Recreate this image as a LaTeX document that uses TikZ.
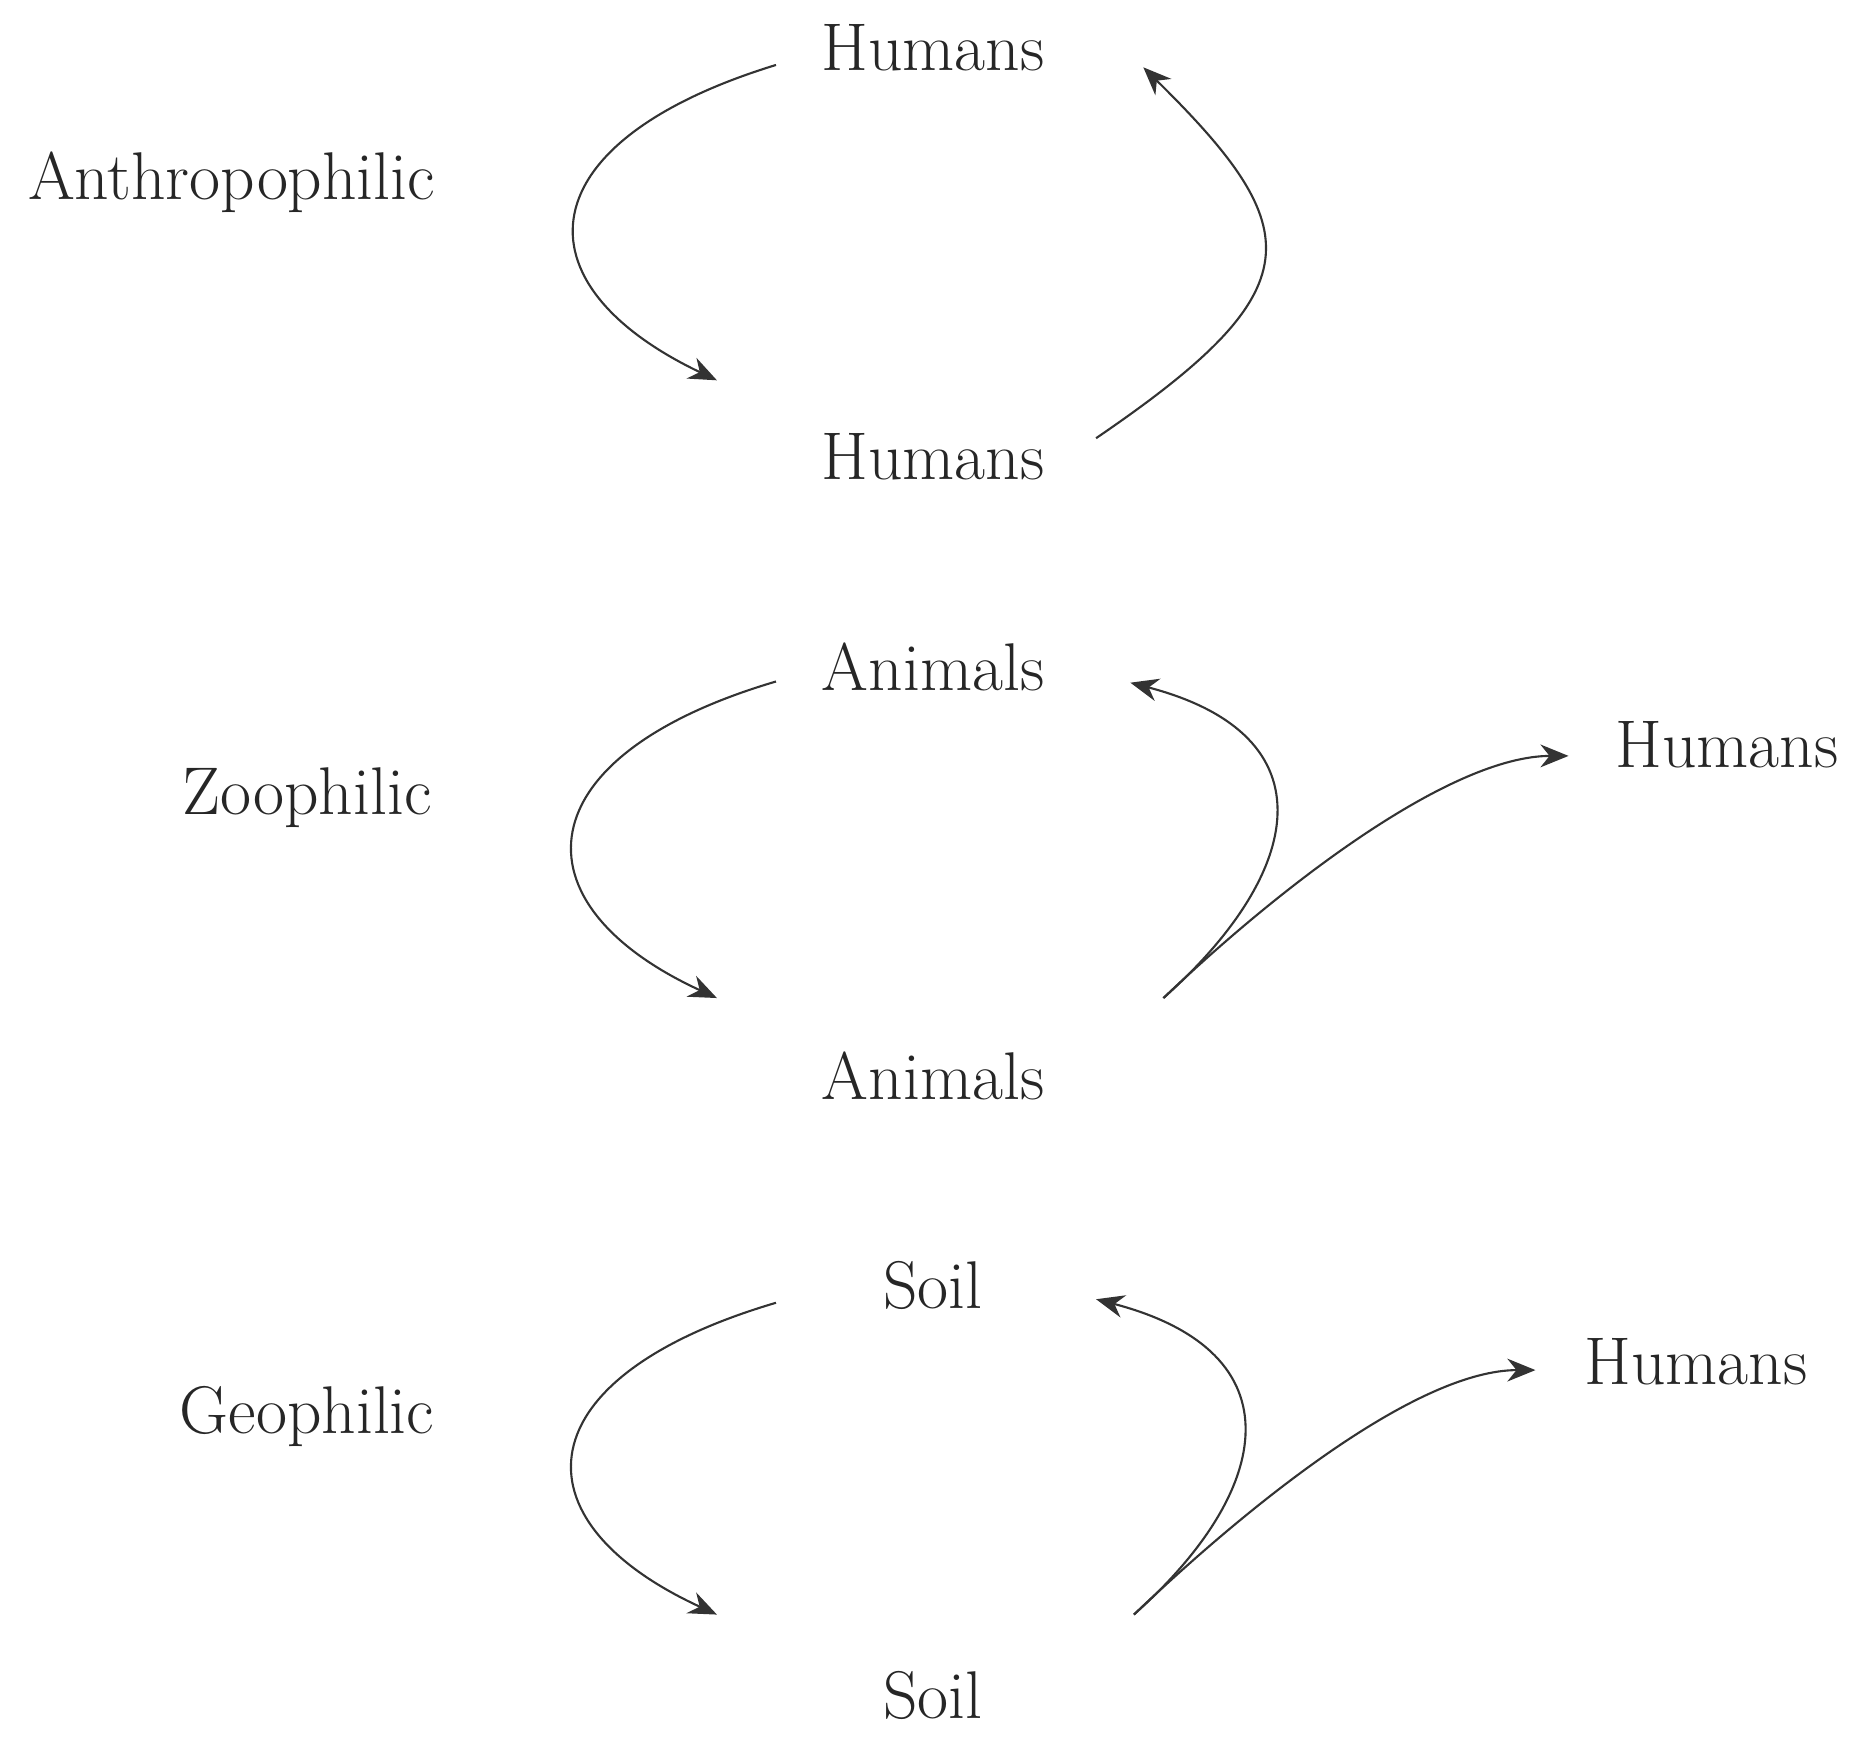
\documentclass[tikz,border=0pt]{standalone}
\usetikzlibrary{arrows.meta}
\begin{document}
\begin{tikzpicture}[x=0.01181cm,y=-0.01181cm,
  every node/.style={font=\fontsize{19.2}{23}\selectfont,text=black!85,inner sep=0pt,anchor=base},
  arr/.style={draw=black!80,line width=0.6pt,-{Stealth[length=8pt,width=6.5pt]}}]
\useasboundingbox (0,0) rectangle (1568,1471);
% anthropophilic: humans -> humans
\node (anth) at (196,169) {Anthropophilic};
\node (hum1) at (790,60) {Humans};
\node (hum2) at (790,406) {Humans};
\draw[arr] ([shift={(-133,-5)}]hum1.base) .. controls +(-212,65) and +(-172,-82) .. ([shift={(-183,-84)}]hum2.base);
\draw[arr] ([shift={(138,-35)}]hum2.base) .. controls +(185,-126) and +(140,138) .. ([shift={(178,-3)}]hum1.base);
% zoophilic: animals -> animals, animals -> humans
\node (zoo) at (260,690) {Zoophilic};
\node (ani1) at (790,585) {Animals};
\node (ani2) at (790,931) {Animals};
\node (humz) at (1462,650) {Humans};
\draw[arr] ([shift={(-133,-8)}]ani1.base) .. controls +(-214,63) and +(-174,-80) .. ([shift={(-183,-86)}]ani2.base);
\draw[arr] ([shift={(195,-86)}]ani2.base) .. controls +(118,-105) and +(172,45) .. ([shift={(167,-7)}]ani1.base);
\draw[arr] ([shift={(195,-86)}]ani2.base) .. controls +(105,-100) and +(-98,0) .. ([shift={(-134,-10)}]humz.base);
% geophilic: soil -> soil, soil -> humans
\node (geo) at (260,1214) {Geophilic};
\node (soil1) at (790,1108) {Soil};
\node (soil2) at (790,1455) {Soil};
\node (humg) at (1436,1172) {Humans};
\draw[arr] ([shift={(-133,-5)}]soil1.base) .. controls +(-214,63) and +(-174,-80) .. ([shift={(-183,-88)}]soil2.base);
\draw[arr] ([shift={(170,-88)}]soil2.base) .. controls +(118,-105) and +(172,45) .. ([shift={(138,-8)}]soil1.base);
\draw[arr] ([shift={(170,-88)}]soil2.base) .. controls +(105,-100) and +(-98,0) .. ([shift={(-136,-12)}]humg.base);
\end{tikzpicture}
\end{document}
